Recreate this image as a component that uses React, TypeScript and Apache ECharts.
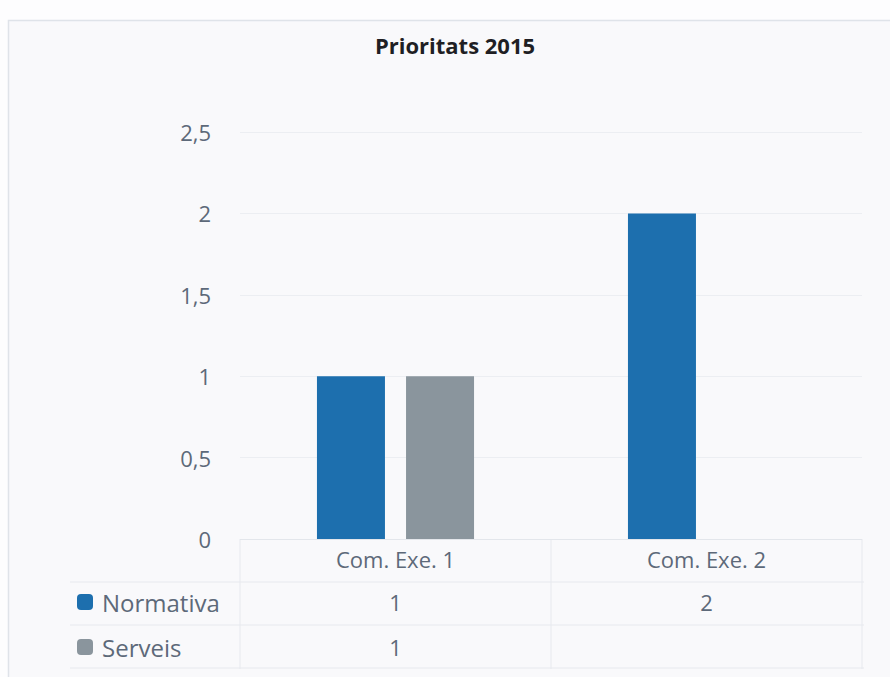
import React, { useEffect, useRef } from "react";
import * as echarts from "echarts";

const title = "Prioritats 2015";
const categories = ["Com. Exe. 1", "Com. Exe. 2"];
const normativa: (number | null)[] = [1, 2];
const serveis: (number | null)[] = [1, null];
const yTicks = [0, 0.5, 1, 1.5, 2, 2.5];

const FONT = "'Open Sans', 'Noto Sans', sans-serif";
const TXT = "#5d6979";
const FS = 22;

export default function App() {
  const ref = useRef<HTMLDivElement>(null);
  useEffect(() => {
    if (!ref.current) return;
    const chart = echarts.init(ref.current, null, { renderer: "svg" });
    const fmtNum = (v: number) => String(v).replace(".", ",");
    const rowAxis = (vals: (number | null)[], offset: number) => ({
      type: "category" as const,
      data: categories,
      position: "bottom" as const,
      gridIndex: 0,
      offset,
      axisLine: { show: false },
      axisTick: { show: false },
      splitLine: { show: false },
      axisLabel: {
        margin: 11,
        fontFamily: FONT,
        fontSize: FS,
        color: TXT,
        formatter: (_v: string, i: number) => (vals[i] == null ? "" : fmtNum(vals[i] as number)),
      },
    });
    const hLine = (y: number) => ({
      type: "line",
      shape: { x1: 70, y1: y, x2: 864, y2: y },
      style: { stroke: "#e7e9ee", lineWidth: 1 },
      silent: true,
    });
    const vLine = (x: number) => ({
      type: "line",
      shape: { x1: x, y1: 540, x2: x, y2: 669 },
      style: { stroke: "#e7e9ee", lineWidth: 1 },
      silent: true,
    });
    chart.setOption({
      animation: false,
      backgroundColor: "#fdfdfe",
      title: {
        text: title,
        left: 450,
        textAlign: "center",
        top: 29,
        textStyle: { fontFamily: FONT, fontSize: 22, fontWeight: "bold", color: "#1f1f24" },
      },
      graphic: [
        {
          type: "rect",
          z: -10,
          shape: { x: 8.5, y: 20.5, width: 900, height: 700 },
          style: { fill: "#f9f9fb", stroke: "#dfe3e9", lineWidth: 1.5 },
          silent: true,
        },
        hLine(582),
        hLine(625),
        hLine(668),
        vLine(240),
        vLine(551),
        vLine(862),
      ],
      legend: {
        orient: "vertical",
        left: 72,
        top: 585,
        itemWidth: 16,
        itemHeight: 16,
        itemGap: 21,
        icon: "roundRect",
        textStyle: { fontFamily: FONT, fontSize: 24, color: TXT, padding: [0, 0, 0, 4] },
        data: ["Normativa", "Serveis"],
      },
      grid: { left: 240, right: 28, top: 132, bottom: 138, containLabel: false },
      xAxis: [
        {
          type: "category",
          data: categories,
          axisLine: { show: true, lineStyle: { color: "#e3e6eb" } },
          axisTick: { show: false },
          axisLabel: { margin: 9, fontFamily: FONT, fontSize: FS, color: TXT },
        },
        rowAxis(normativa, 41),
        rowAxis(serveis, 86),
      ],
      yAxis: {
        type: "value",
        min: yTicks[0],
        max: yTicks[yTicks.length - 1],
        interval: 0.5,
        axisLine: { show: false },
        axisTick: { show: false },
        splitLine: { lineStyle: { color: "#eceef2" } },
        axisLabel: {
          margin: 29,
          fontFamily: FONT,
          fontSize: FS,
          color: TXT,
          formatter: (v: number) => fmtNum(v),
        },
      },
      series: [
        {
          name: "Normativa",
          type: "bar",
          data: normativa,
          barWidth: 68,
          barGap: "31%",
          itemStyle: { color: "#1d6fae" },
        },
        {
          name: "Serveis",
          type: "bar",
          data: serveis,
          barWidth: 68,
          barGap: "31%",
          itemStyle: { color: "#8a959d" },
        },
      ],
    });
    return () => chart.dispose();
  }, []);
  return (
    <div
      ref={ref}
      style={{ position: "fixed", left: 0, top: 0, width: 890, height: 677 }}
    />
  );
}
